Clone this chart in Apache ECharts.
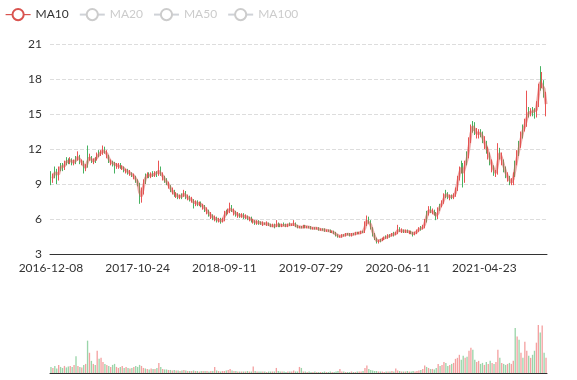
<!DOCTYPE html>
<html><head><meta charset="utf-8">
<script src="https://cdn.jsdelivr.net/npm/echarts@6/dist/echarts.min.js"></script>
<style>html,body{margin:0;padding:0;background:#fff}#main{width:577px;height:380px}</style>
</head><body><div id="main"></div>
<script>
// Each point summarises roughly one trading week.
const dates = [
'2016-12-08','2016-12-15','2016-12-22','2016-12-29','2017-01-05','2017-01-12','2017-01-19','2017-01-26','2017-02-09','2017-02-16',
'2017-02-23','2017-03-02','2017-03-09','2017-03-16','2017-03-23','2017-03-30','2017-04-06','2017-04-13','2017-04-20','2017-04-27',
'2017-05-04','2017-05-11','2017-05-18','2017-05-25','2017-06-01','2017-06-08','2017-06-15','2017-06-22','2017-06-29','2017-07-06',
'2017-07-13','2017-07-20','2017-07-27','2017-08-03','2017-08-10','2017-08-17','2017-08-24','2017-08-31','2017-09-07','2017-09-14',
'2017-09-21','2017-09-28','2017-10-11','2017-10-16','2017-10-19','2017-10-24','2017-10-31','2017-11-07','2017-11-14','2017-11-21',
'2017-11-28','2017-12-05','2017-12-12','2017-12-19','2017-12-26','2018-01-02','2018-01-09','2018-01-16','2018-01-23','2018-01-30',
'2018-02-06','2018-02-13','2018-02-27','2018-03-06','2018-03-13','2018-03-20','2018-03-27','2018-04-03','2018-04-10','2018-04-17',
'2018-04-24','2018-05-02','2018-05-08','2018-05-15','2018-05-22','2018-05-29','2018-06-05','2018-06-12','2018-06-19','2018-06-26',
'2018-07-03','2018-07-10','2018-07-17','2018-07-24','2018-07-31','2018-08-07','2018-08-14','2018-08-21','2018-08-28','2018-09-04',
'2018-09-11','2018-09-18','2018-09-25','2018-10-09','2018-10-16','2018-10-23','2018-10-30','2018-11-06','2018-11-13','2018-11-20',
'2018-11-27','2018-12-04','2018-12-11','2018-12-18','2018-12-25','2019-01-02','2019-01-08','2019-01-15','2019-01-22','2019-01-29',
'2019-02-12','2019-02-19','2019-02-26','2019-03-05','2019-03-12','2019-03-19','2019-03-26','2019-04-02','2019-04-09','2019-04-16',
'2019-04-23','2019-04-30','2019-05-07','2019-05-14','2019-05-21','2019-05-28','2019-06-04','2019-06-11','2019-06-18','2019-06-25',
'2019-07-02','2019-07-08','2019-07-12','2019-07-18','2019-07-23','2019-07-29','2019-08-05','2019-08-12','2019-08-19','2019-08-26',
'2019-09-02','2019-09-09','2019-09-16','2019-09-23','2019-09-30','2019-10-14','2019-10-21','2019-10-28','2019-11-04','2019-11-11',
'2019-11-18','2019-11-25','2019-12-02','2019-12-09','2019-12-16','2019-12-23','2019-12-30','2020-01-06','2020-01-13','2020-01-20',
'2020-02-03','2020-02-10','2020-02-17','2020-02-24','2020-03-02','2020-03-09','2020-03-16','2020-03-23','2020-03-30','2020-04-07',
'2020-04-13','2020-04-20','2020-04-27','2020-05-06','2020-05-11','2020-05-18','2020-05-25','2020-06-01','2020-06-04','2020-06-08',
'2020-06-11','2020-06-18','2020-06-24','2020-07-02','2020-07-09','2020-07-16','2020-07-23','2020-07-30','2020-08-06','2020-08-13',
'2020-08-20','2020-08-27','2020-09-03','2020-09-10','2020-09-17','2020-09-24','2020-10-09','2020-10-15','2020-10-22','2020-10-29',
'2020-11-05','2020-11-12','2020-11-19','2020-11-26','2020-12-03','2020-12-10','2020-12-17','2020-12-24','2020-12-31','2021-01-07',
'2021-01-14','2021-01-21','2021-01-28','2021-02-04','2021-02-18','2021-02-25','2021-03-04','2021-03-11','2021-03-18','2021-03-25',
'2021-04-01','2021-04-08','2021-04-13','2021-04-16','2021-04-20','2021-04-23','2021-04-30','2021-05-07','2021-05-14','2021-05-21',
'2021-05-28','2021-06-04','2021-06-11','2021-06-18','2021-06-25','2021-07-02','2021-07-09','2021-07-16','2021-07-23','2021-07-30',
'2021-08-06','2021-08-13','2021-08-20','2021-08-27','2021-09-03','2021-09-10','2021-09-17','2021-09-24','2021-10-08','2021-10-15',
'2021-10-22','2021-10-29','2021-11-05','2021-11-12','2021-11-19','2021-11-26','2021-12-03','2021-12-10'
];
const opens = [
9.9,9.3,10.4,10.2,9.4,10.7,10.6,10.3,11.2,11.0,
10.9,11.1,10.7,11.3,11.2,11.4,10.7,10.9,10.3,11.5,
11.1,11.2,10.8,11.2,11.1,11.8,11.5,11.7,12.1,11.3,
11.4,10.7,10.9,10.8,10.4,10.5,10.7,10.3,10.4,10.0,
10.2,9.8,9.9,9.5,9.6,9.3,9.0,7.6,8.3,9.8,
9.6,9.9,9.6,10.0,9.7,10.0,9.8,10.3,9.4,9.6,
9.3,8.7,8.8,8.2,8.3,7.9,8.1,7.8,8.1,8.0,
8.3,7.7,7.9,7.5,7.6,7.2,7.5,7.2,7.4,6.9,
7.0,6.5,6.6,6.1,6.3,5.9,6.1,5.8,6.0,5.8,
5.9,6.7,6.5,6.7,7.0,6.4,6.6,6.2,6.4,6.2,
6.4,6.1,6.2,5.9,6.1,5.7,5.8,5.6,5.8,5.7,
5.5,5.7,5.5,5.6,5.5,5.3,5.5,5.4,5.6,5.5,
5.4,5.6,5.5,5.4,5.6,5.4,5.5,5.6,5.4,5.2,
5.4,5.3,5.4,5.2,5.4,5.3,5.1,5.3,5.1,5.2,
5.0,5.2,5.1,4.9,5.1,5.0,4.8,4.9,4.8,4.6,
4.4,4.5,4.7,4.6,4.8,4.7,4.6,4.8,4.7,4.9,
4.7,4.8,5.0,4.9,5.6,6.1,5.8,5.0,4.6,4.2,
4.0,4.3,4.2,4.3,4.6,4.4,4.7,4.6,4.8,4.7,
4.8,5.2,4.9,5.0,4.9,5.0,4.8,4.9,4.8,4.7,
4.8,5.0,5.3,5.2,5.3,6.6,6.5,7.0,6.5,6.7,
6.5,6.1,7.3,7.2,7.4,8.4,8.2,7.7,8.0,7.8,
8.0,8.5,9.5,10.9,10.6,9.3,11.6,11.4,12.8,14.3,
14.1,13.0,13.1,13.6,13.3,12.2,12.5,11.3,11.4,10.2,
10.4,9.7,9.9,11.8,10.8,10.9,10.1,9.4,9.5,9.0,
9.1,10.9,10.8,12.6,12.4,14.0,13.8,14.2,15.4,14.9,
15.5,15.3,14.9,15.8,18.6,17.4,17.6,14.9
];
const closes = [
9.3,9.7,10.2,9.4,10.3,10.6,10.3,10.8,11.0,10.9,
11.1,10.8,10.9,11.2,11.4,10.9,10.9,10.3,10.5,11.3,
11.2,11.0,10.9,11.1,11.5,11.6,11.7,12.0,11.8,11.4,
11.0,10.8,10.8,10.6,10.5,10.6,10.5,10.4,10.2,10.1,
10.0,9.9,9.8,9.6,9.3,9.0,7.6,8.3,9.2,9.7,
9.8,9.7,9.8,9.9,9.8,9.9,10.3,9.9,9.5,9.3,
9.1,8.8,8.5,8.3,8.1,8.0,7.9,7.9,8.0,8.3,
7.9,7.8,7.7,7.6,7.3,7.4,7.3,7.3,7.2,7.0,
6.8,6.6,6.4,6.2,6.1,6.0,5.9,5.9,5.8,5.9,
6.5,6.6,6.7,7.0,6.8,6.5,6.4,6.3,6.3,6.3,
6.2,6.2,6.1,6.0,5.9,5.8,5.7,5.7,5.7,5.6,
5.6,5.6,5.6,5.5,5.4,5.4,5.4,5.5,5.5,5.4,
5.5,5.5,5.4,5.5,5.5,5.5,5.6,5.4,5.3,5.3,
5.3,5.4,5.3,5.3,5.3,5.2,5.2,5.2,5.2,5.1,
5.1,5.1,5.0,5.0,5.0,4.9,4.9,4.8,4.6,4.5,
4.5,4.6,4.6,4.7,4.7,4.6,4.7,4.7,4.8,4.8,
4.8,4.9,4.9,5.6,6.1,5.8,5.2,4.7,4.3,4.0,
4.1,4.2,4.3,4.4,4.5,4.5,4.6,4.7,4.7,4.8,
5.2,5.0,5.0,4.9,5.0,4.9,4.9,4.8,4.7,4.8,
5.0,5.2,5.2,5.3,5.8,6.5,6.9,6.7,6.6,6.5,
6.1,6.9,7.2,7.4,8.0,8.2,7.9,7.9,7.9,8.0,
8.5,9.5,10.2,10.6,9.3,10.8,11.4,12.8,13.8,14.1,
13.5,13.2,13.4,13.3,12.8,12.4,12.0,11.4,10.9,10.4,
10.0,9.9,11.8,11.5,10.9,10.3,9.8,9.5,9.2,9.1,
9.8,10.8,11.6,12.4,13.2,13.8,14.2,15.0,15.2,15.1,
15.3,14.9,15.8,17.3,18.2,17.6,16.7,15.0
];
const lows = [
8.9,9.1,9.5,9.0,9.3,10.1,10.1,10.2,10.6,10.7,
10.7,10.6,10.6,10.7,11.0,10.7,10.6,9.9,10.1,10.4,
11.0,10.8,10.7,10.8,11.0,11.3,11.4,11.5,11.6,11.2,
10.8,10.6,10.5,9.9,10.3,10.3,10.3,10.2,10.0,9.9,
9.8,9.7,9.6,9.4,9.1,8.8,7.3,7.4,8.1,9.0,
9.5,9.5,9.5,9.6,9.6,9.6,9.7,9.7,9.3,9.1,
8.9,8.6,8.3,8.1,7.9,7.8,7.7,7.7,7.7,7.9,
7.7,7.6,7.5,7.4,6.9,7.1,7.1,7.1,7.0,6.8,
6.6,6.4,6.2,6.0,5.9,5.8,5.7,5.7,5.6,5.7,
5.8,6.3,6.4,6.5,6.6,6.3,6.2,6.1,6.1,6.1,
6.0,6.0,5.9,5.8,5.7,5.6,5.5,5.5,5.5,5.5,
5.4,5.5,5.4,5.4,5.3,5.3,5.2,5.3,5.3,5.3,
5.3,5.4,5.3,5.3,5.4,5.4,5.4,5.3,5.2,5.2,
5.2,5.2,5.2,5.2,5.2,5.1,5.1,5.1,5.1,5.0,
5.0,5.0,4.9,4.9,4.9,4.8,4.8,4.7,4.5,4.4,
4.4,4.4,4.5,4.5,4.6,4.5,4.5,4.6,4.6,4.7,
4.7,4.7,4.8,4.8,5.4,5.6,5.1,4.5,4.2,3.9,
3.9,4.0,4.1,4.2,4.3,4.3,4.4,4.5,4.5,4.6,
4.7,4.9,4.8,4.8,4.8,4.8,4.7,4.7,4.5,4.6,
4.7,4.9,5.0,5.1,5.2,5.7,6.3,6.5,6.4,6.3,
5.9,6.0,6.7,7.0,7.3,7.8,7.7,7.6,7.7,7.7,
7.9,8.4,9.3,9.9,8.7,9.1,10.6,11.2,12.5,13.4,
13.2,12.9,12.9,13.0,12.5,12.0,11.6,11.1,10.6,10.0,
9.7,9.6,9.8,11.1,10.6,10.0,9.5,9.2,8.9,8.9,
8.9,9.6,10.6,11.4,12.1,12.9,13.5,13.9,14.7,14.8,
14.8,14.6,14.7,15.6,17.0,17.2,16.4,14.8
];
const highs = [
10.1,9.9,10.5,10.3,10.5,10.8,10.8,11.0,11.3,11.2,
11.3,11.2,11.1,11.4,11.8,11.5,11.1,11.0,10.7,12.3,
11.6,11.4,11.2,11.3,11.7,11.9,11.9,12.3,12.2,11.9,
11.5,11.1,11.0,10.9,10.8,10.8,10.8,10.6,10.5,10.3,
10.3,10.2,10.0,9.9,9.7,9.4,9.1,8.7,9.4,9.9,
10.0,10.0,10.0,10.1,10.1,10.1,11.0,10.5,10.0,9.7,
9.5,9.2,8.9,8.7,8.5,8.3,8.2,8.1,8.2,8.5,
8.4,8.1,8.0,7.9,7.7,7.6,7.6,7.5,7.5,7.3,
7.2,7.0,6.8,6.6,6.4,6.3,6.2,6.1,6.1,6.1,
6.7,6.8,6.9,7.4,7.2,6.9,6.7,6.6,6.5,6.5,
6.5,6.4,6.3,6.2,6.2,6.0,5.9,5.9,5.9,5.8,
5.8,5.7,5.8,5.7,5.6,5.6,5.6,5.9,5.7,5.6,
5.6,5.7,5.6,5.6,5.7,5.6,5.9,5.7,5.5,5.4,
5.4,5.5,5.5,5.4,5.4,5.4,5.3,5.3,5.3,5.3,
5.2,5.2,5.2,5.1,5.1,5.1,5.0,5.0,4.9,4.7,
4.6,4.7,4.7,4.8,4.8,4.8,4.8,4.8,4.9,4.9,
4.9,5.0,5.0,5.8,6.3,6.2,5.9,5.3,4.8,4.4,
4.2,4.3,4.4,4.5,4.6,4.7,4.7,4.8,4.9,4.9,
5.5,5.3,5.2,5.1,5.1,5.1,5.0,5.0,4.9,4.9,
5.1,5.3,5.4,5.5,6.0,6.7,7.1,7.1,6.9,6.8,
6.6,7.0,7.3,7.6,8.2,8.5,8.3,8.1,8.1,8.2,
8.7,9.7,10.5,11.0,10.8,11.0,11.8,13.0,14.1,14.4,
14.3,13.8,13.7,13.7,13.5,13.1,12.7,12.2,11.7,11.1,
10.6,10.2,12.5,12.1,11.7,11.1,10.5,10.0,9.7,9.5,
10.0,11.0,11.9,12.7,13.5,14.1,14.6,17.0,15.6,15.5,
15.6,15.5,16.1,17.6,19.1,18.6,17.9,16.9
];
const volumes = [
12,10,14,9,16,12,10,14,11,13,
14,12,16,33,14,12,11,16,18,64,
40,24,18,16,44,28,30,22,18,16,
14,12,16,18,12,10,12,14,10,12,
10,9,10,12,14,12,16,14,10,9,
8,7,9,8,8,10,20,12,8,7,
7,6,6,5,6,5,5,4,5,6,
5,4,4,4,5,4,4,3,4,4,
4,4,3,4,4,12,5,4,3,4,
4,5,6,8,5,4,4,3,3,3,
3,3,4,3,3,13,4,3,3,3,
3,3,2,3,3,3,3,10,4,3,
3,3,2,3,3,3,5,3,3,12,
10,3,3,2,3,2,2,3,2,2,
2,2,3,2,2,3,2,2,3,4,
8,3,3,2,2,2,3,2,2,3,
3,3,4,10,15,8,6,5,4,4,
3,3,3,2,3,3,3,4,3,9,
5,4,3,3,3,4,3,3,4,3,
4,5,6,8,15,12,10,8,8,7,
10,18,14,16,22,20,14,16,18,20,
28,30,36,26,34,30,32,44,50,46,
26,22,24,18,20,16,22,18,24,20,
18,22,46,30,20,18,16,18,20,18,
24,89,72,66,40,30,62,44,34,30,
36,44,60,95,80,94,40,30
];
const legendNames = ['MA10','MA20','MA50','MA100'];
// one point ≈ 5 trading days, so MA10/20/50/100 span 2/4/10/20 points
const maWindows = [2, 4, 10, 20];
const yTicks = {min: 3, max: 21, interval: 3};

const UP = '#eb5454', DOWN = '#47b262';
function calcMA(win) {
  const out = [];
  for (let i = 0; i < closes.length; i++) {
    if (i < win - 1) { out.push('-'); continue; }
    let s = 0;
    for (let j = 0; j < win; j++) s += closes[i - j];
    out.push(+(s / win).toFixed(3));
  }
  return out;
}
const candle = dates.map((d, i) => [opens[i], closes[i], lows[i], highs[i]]);
const volData = volumes.map((v, i) => {
  const up = closes[i] > opens[i] || (closes[i] === opens[i] && (i === 0 || closes[i] >= closes[i - 1]));
  return { value: v, itemStyle: { color: up ? UP : DOWN, opacity: 0.55 } };
});
const maColors = ['#d9534f', '#c9a227', '#5470c6', '#73c0de'];

const chart = echarts.init(document.getElementById('main'));
chart.setOption({
  animation: false,
  textStyle: { fontFamily: 'Lato' },
  legend: {
    data: legendNames, left: 0, top: 3, itemGap: 10,
    textStyle: { color: '#333', fontSize: 12, fontFamily: 'Lato' },
    inactiveColor: '#ccc',
    lineStyle: { width: 1.2, opacity: 1 },
    itemStyle: { borderWidth: 1.2 },
    selected: { MA10: true, MA20: false, MA50: false, MA100: false }
  },
  grid: [
    { left: 50, right: 30, top: 44, height: 210 },
    { left: 50, right: 30, top: 325, height: 48 }
  ],
  xAxis: [
    { type: 'category', data: dates, gridIndex: 0, boundaryGap: true,
      axisLine: { lineStyle: { color: '#333' } },
      axisTick: { interval: 44, length: 5, lineStyle: { color: '#333' } },
      axisLabel: { interval: 44, color: '#333', fontSize: 12, fontFamily: 'Lato' },
      splitLine: { show: false } },
    { type: 'category', data: dates, gridIndex: 1, boundaryGap: true,
      axisLine: { lineStyle: { color: '#333' } },
      axisTick: { show: false }, axisLabel: { show: false }, splitLine: { show: false } }
  ],
  yAxis: [
    { type: 'value', gridIndex: 0, min: yTicks.min, max: yTicks.max, interval: yTicks.interval,
      axisLine: { show: false }, axisTick: { show: false },
      axisLabel: { color: '#333', fontSize: 12, fontFamily: 'Lato' },
      splitLine: { lineStyle: { type: 'dashed', color: '#ddd' } } },
    { type: 'value', gridIndex: 1, min: 0, max: 'dataMax', show: false, splitLine: { show: false } }
  ],
  series: [
    { name: 'K', type: 'candlestick', data: candle, xAxisIndex: 0, yAxisIndex: 0, barWidth: '60%',
      itemStyle: { color: UP, color0: DOWN, borderColor: UP, borderColor0: DOWN } },
    ...legendNames.map((n, k) => ({
      name: n, type: 'line', data: calcMA(maWindows[k]), xAxisIndex: 0, yAxisIndex: 0,
      showSymbol: false, symbol: 'emptyCircle', smooth: false, color: maColors[k],
      lineStyle: { width: 3, opacity: 0.5 }
    })),
    { name: 'Volume', type: 'bar', data: volData, xAxisIndex: 1, yAxisIndex: 1 }
  ]
});
</script>
</body></html>
